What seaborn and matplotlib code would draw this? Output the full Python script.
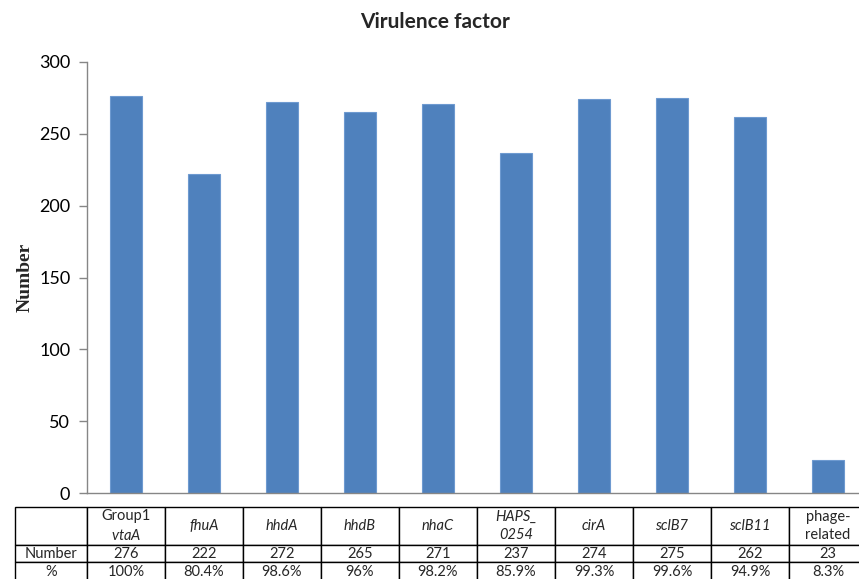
import matplotlib
matplotlib.use("Agg")
import matplotlib.pyplot as plt
import seaborn as sns
import pandas as pd

# Virulence factor counts across isolates
genes = ["vtaA", "fhuA", "hhdA", "hhdB", "nhaC", "HAPS_0254", "cirA", "sclB7", "sclB11", "phage"]
header_labels = ["Group1\n$\\mathit{vtaA}$", "fhuA", "hhdA", "hhdB", "nhaC", "HAPS_\n0254",
                 "cirA", "sclB7", "sclB11", "phage-\nrelated"]
italic_header = [False, True, True, True, True, True, True, True, True, False]
counts = [276, 222, 272, 265, 271, 237, 274, 275, 262, 23]
percents = ["100%", "80.4%", "98.6%", "96%", "98.2%", "85.9%", "99.3%", "99.6%", "94.9%", "8.3%"]
row_labels = ["", "Number", "%"]
y_ticks = [0, 50, 100, 150, 200, 250, 300]

sns.set_theme(style="white")
plt.rcParams["font.family"] = ["Lato", "DejaVu Sans"]
plt.rcParams["mathtext.fontset"] = "custom"
plt.rcParams["mathtext.rm"] = "Lato"
plt.rcParams["mathtext.it"] = "Lato:italic"

W, H = 859, 579
fig = plt.figure(figsize=(W / 100, H / 100), dpi=100)

# axes geometry in pixels
ax_l, ax_r, ax_t, ax_b = 87, 867, 62, 493
ax = fig.add_axes([ax_l / W, 1 - ax_b / H, (ax_r - ax_l) / W, (ax_b - ax_t) / H])

df = pd.DataFrame({"gene": genes, "count": counts})
sns.barplot(data=df, x="gene", y="count", color="#4F81BD", width=0.4, saturation=1,
            edgecolor="#6E9AD0", linewidth=0.8, ax=ax)

ax.set_xlim(-0.5, len(genes) - 0.5)
ax.set_ylim(0, 300)
ax.set_yticks(y_ticks)
ax.set_yticklabels([str(t) for t in y_ticks], fontsize=13)
ax.set_xticks([])
ax.set_xlabel("")
ax.set_ylabel("Number", family="Liberation Serif", fontweight="bold", fontsize=14, labelpad=4)

for side in ["top", "right"]:
    ax.spines[side].set_visible(False)
for side in ["left", "bottom"]:
    ax.spines[side].set_color("#868686")
    ax.spines[side].set_linewidth(1.0)
ax.tick_params(axis="y", which="both", left=True, length=6, width=1.0, color="#868686",
               pad=6, labelcolor="black")

fig.text(435 / W, 1 - 22 / H, "Virulence factor", ha="center", va="center",
         fontsize=15, fontweight="bold")

# data table beneath the bars
cell_text = [[row_labels[0]] + header_labels,
             [row_labels[1]] + [str(c) for c in counts],
             [row_labels[2]] + percents]
tab_l, tab_t, tab_b = 15, 507, 581
first_w = ax_l - tab_l
col_w = (ax_r - ax_l) / len(genes)
tab_w = ax_r - tab_l
colWidths = [first_w / tab_w] + [col_w / tab_w] * len(genes)
axh = ax_b - ax_t
axw = ax_r - ax_l
tbl = ax.table(cellText=cell_text, cellLoc="center", colWidths=colWidths,
               bbox=[(tab_l - ax_l) / axw, (ax_b - tab_b) / axh, tab_w / axw, (tab_b - tab_t) / axh])
tbl.auto_set_font_size(False)
row_h = [38, 17, 19]
for (r, c), cell in tbl.get_celld().items():
    cell.set_height(row_h[r] / (tab_b - tab_t))
    cell.set_edgecolor("black")
    cell.set_linewidth(1.0)
    cell.set_facecolor("white")
    txt = cell.get_text()
    txt.set_fontsize(10.5)
    txt.set_linespacing(1.35)
    if r == 0 and c >= 1 and italic_header[c - 1]:
        txt.set_fontstyle("italic")
tbl.set_clip_on(False)

fig.savefig("out.png", dpi=100)
